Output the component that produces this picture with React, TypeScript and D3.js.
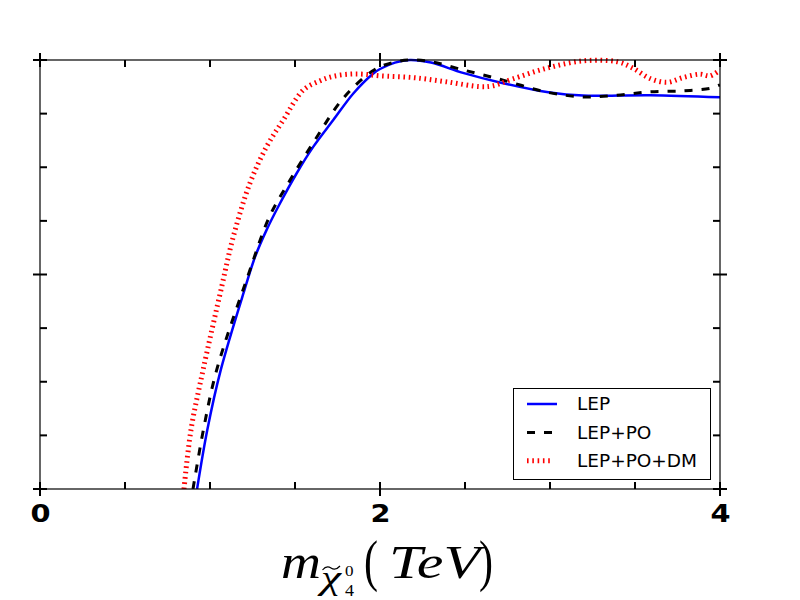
import React from "react";
import * as d3 from "d3";

// ---- data ----
const lepX = [0.924, 0.984, 1.063, 1.206, 1.265, 1.333, 1.412, 1.510, 1.608, 1.725, 1.843, 1.959, 2.0, 2.088, 2.176, 2.3, 2.488, 2.724, 3.0, 3.194, 3.588, 4.0];
const lepY = [0, 0.1375, 0.277, 0.468, 0.541, 0.604, 0.666, 0.736, 0.798, 0.860, 0.922, 0.968, 0.979, 0.994, 1.0, 0.994, 0.970, 0.946, 0.924, 0.917, 0.918, 0.913];

const lepPoX = [0.9, 0.961, 1.039, 1.225, 1.35, 1.471, 1.62, 1.784, 1.97, 2.088, 2.176, 2.3, 2.488, 2.724, 2.982, 3.194, 3.394, 3.588, 3.782, 3.941, 4.0];
const lepPoY = [0, 0.1375, 0.277, 0.499, 0.635, 0.720, 0.815, 0.911, 0.978, 0.995, 1.0, 0.996, 0.977, 0.953, 0.925, 0.914, 0.918, 0.926, 0.928, 0.934, 0.942];

const lepPoDmX = [0.847, 0.888, 0.959, 1.069, 1.137, 1.235, 1.333, 1.431, 1.549, 1.65, 1.724, 1.82, 1.9, 2.0, 2.194, 2.394, 2.588, 2.665, 2.782, 2.982, 3.194, 3.394, 3.488, 3.588, 3.688, 3.782, 3.882, 3.941, 4.0];
const lepPoDmY = [0, 0.1375, 0.277, 0.472, 0.588, 0.713, 0.798, 0.860, 0.930, 0.952, 0.962, 0.967, 0.967, 0.963, 0.959, 0.949, 0.938, 0.940, 0.956, 0.981, 0.998, 0.996, 0.981, 0.957, 0.948, 0.959, 0.967, 0.963, 0.977];

const seriesNames = ["LEP", "LEP+PO", "LEP+PO+DM"];
const xMajorTicks = [0, 2, 4];
const xMinorTicks = [0.5, 1, 1.5, 2.5, 3, 3.5];
const yMajorTicks = [0, 0.5, 1];
const yMinorTicks = [0.125, 0.25, 0.375, 0.625, 0.75, 0.875];

const W = 800, H = 600;
const L = 40, R = 720, T = 60, B = 489;

export default function App() {
  const x = d3.scaleLinear().domain([0, 4]).range([L, R]);
  const y = d3.scaleLinear().domain([0, 1]).range([B, T]);
  const line = d3.line<[number, number]>()
    .x(d => x(d[0]))
    .y(d => y(d[1]))
    .curve(d3.curveCatmullRom.alpha(0.5));
  const zip = (a: number[], b: number[]) => a.map((v, i) => [v, b[i]] as [number, number]);

  const series = [
    { name: seriesNames[0], d: line(zip(lepX, lepY)), stroke: "#0000ff", w: 2.5, dash: undefined as string | undefined },
    { name: seriesNames[1], d: line(zip(lepPoX, lepPoY)), stroke: "#000000", w: 3, dash: "8 9" },
    { name: seriesNames[2], d: line(zip(lepPoDmX, lepPoDmY)), stroke: "#ff0000", w: 5, dash: "1.6 3.7" },
  ];

  const tickW = 2;
  const maj = 7, mnr = 7;

  return (
    <div style={{ position: "absolute", left: 0, top: 0 }}>
      <svg width={W} height={H} style={{ display: "block", background: "#fff" }}>
        <defs>
          <clipPath id="plotclip">
            <rect x={L} y={T - 5} width={R - L} height={B - T + 5} />
          </clipPath>
        </defs>
        <rect x={0} y={0} width={W} height={H} fill="#fff" />

        {/* curves */}
        <g clipPath="url(#plotclip)" fill="none">
          {series.map(s => (
            <path key={s.name} d={s.d || ""} stroke={s.stroke} strokeWidth={s.w} strokeDasharray={s.dash} strokeLinecap="butt" strokeLinejoin="round" />
          ))}
        </g>

        {/* frame */}
        <rect x={L} y={T} width={R - L} height={B - T} fill="none" stroke="#000" strokeWidth={1.2} />

        {/* ticks */}
        <g stroke="#000" strokeWidth={tickW}>
          {xMajorTicks.map(t => (
            <g key={"xm" + t}>
              <line x1={x(t)} x2={x(t)} y1={B - maj} y2={B + maj} />
              <line x1={x(t)} x2={x(t)} y1={T - maj} y2={T + maj} />
            </g>
          ))}
          {xMinorTicks.map(t => (
            <g key={"xn" + t}>
              <line x1={x(t)} x2={x(t)} y1={B - mnr} y2={B} />
              <line x1={x(t)} x2={x(t)} y1={T} y2={T + mnr} />
            </g>
          ))}
          {yMajorTicks.map(t => (
            <g key={"ym" + t}>
              <line x1={L - maj} x2={L + maj} y1={y(t)} y2={y(t)} />
              <line x1={R - maj} x2={R + maj} y1={y(t)} y2={y(t)} />
            </g>
          ))}
          {yMinorTicks.map(t => (
            <g key={"yn" + t}>
              <line x1={L} x2={L + mnr} y1={y(t)} y2={y(t)} />
              <line x1={R - mnr} x2={R} y1={y(t)} y2={y(t)} />
            </g>
          ))}
        </g>

        {/* x tick labels */}
        <g fontFamily="'DejaVu Sans', sans-serif" fontWeight="bold" fontSize={24} fill="#000">
          {xMajorTicks.map(t => (
            <text key={"xl" + t} transform={`translate(${x(t) + 0.5},522) scale(1.2,1)`} textAnchor="middle">{String(t)}</text>
          ))}
        </g>

        {/* x axis label: m_{\tilde\chi^0_4}(TeV) */}
        <g fontFamily="'Liberation Serif', serif" fill="#000">
          <text x={281} y={578} fontSize={48} fontStyle="italic" textLength={40} lengthAdjust="spacingAndGlyphs">m</text>
          <text x={321} y={589} fontSize={33} fontStyle="italic" textLength={20} lengthAdjust="spacingAndGlyphs">χ</text>
          <path d="M322.5,570 Q326.5,565 331,568 T340,566" fill="none" stroke="#000" strokeWidth={1.2} />
          <text x={345} y={576} fontSize={15} textLength={8.5} lengthAdjust="spacingAndGlyphs">0</text>
          <text x={345} y={596} fontSize={16} textLength={9} lengthAdjust="spacingAndGlyphs">4</text>
          <text x={364} y={580} fontSize={56} textLength={14} lengthAdjust="spacingAndGlyphs">(</text>
          <text x={389} y={578} fontSize={47} fontStyle="italic" textLength={91} lengthAdjust="spacingAndGlyphs">TeV</text>
          <text x={479} y={580} fontSize={56} textLength={14} lengthAdjust="spacingAndGlyphs">)</text>
        </g>

        {/* legend */}
        <g>
          <rect x={513.5} y={388.5} width={197} height={91} fill="#fff" stroke="#000" strokeWidth={1} />
          {series.map((s, i) => {
            const ly = 404 + i * 28.4;
            return (
              <g key={"lg" + s.name}>
                <line x1={527} x2={i === 2 ? 551 : 557} y1={ly} y2={ly} stroke={s.stroke} strokeWidth={s.w} strokeDasharray={s.dash} />
                <text x={577} y={ly + 6.3} fontFamily="'DejaVu Sans', sans-serif" fontSize={18.5} fill="#000">{s.name}</text>
              </g>
            );
          })}
        </g>
      </svg>
    </div>
  );
}
